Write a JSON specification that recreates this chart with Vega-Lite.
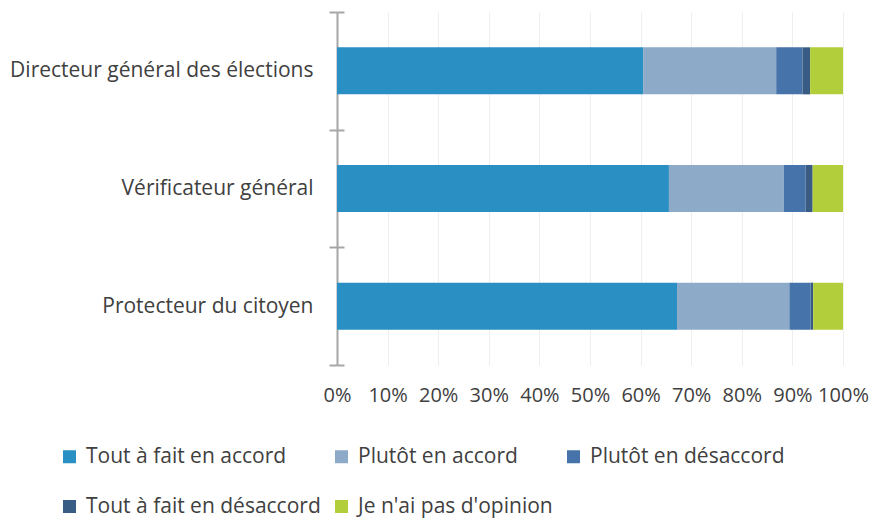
{
  "$schema": "https://vega.github.io/schema/vega-lite/v6.json",
  "autosize": {"type": "none"},
  "width": 506,
  "height": 353,
  "padding": {"left": 337, "top": 12, "right": 29, "bottom": 155},
  "background": "white",
  "config": {
    "font": "Open Sans",
    "view": {"stroke": null}
  },
  "data": {
    "values": [
      {"institution": "Directeur général des élections", "reponse": "Tout à fait en accord", "pct": 60.5},
      {"institution": "Directeur général des élections", "reponse": "Plutôt en accord", "pct": 26.3},
      {"institution": "Directeur général des élections", "reponse": "Plutôt en désaccord", "pct": 5.2},
      {"institution": "Directeur général des élections", "reponse": "Tout à fait en désaccord", "pct": 1.5},
      {"institution": "Directeur général des élections", "reponse": "Je n'ai pas d'opinion", "pct": 6.5},
      {"institution": "Vérificateur général", "reponse": "Tout à fait en accord", "pct": 65.6},
      {"institution": "Vérificateur général", "reponse": "Plutôt en accord", "pct": 22.7},
      {"institution": "Vérificateur général", "reponse": "Plutôt en désaccord", "pct": 4.3},
      {"institution": "Vérificateur général", "reponse": "Tout à fait en désaccord", "pct": 1.4},
      {"institution": "Vérificateur général", "reponse": "Je n'ai pas d'opinion", "pct": 6.0},
      {"institution": "Protecteur du citoyen", "reponse": "Tout à fait en accord", "pct": 67.2},
      {"institution": "Protecteur du citoyen", "reponse": "Plutôt en accord", "pct": 22.2},
      {"institution": "Protecteur du citoyen", "reponse": "Plutôt en désaccord", "pct": 4.2},
      {"institution": "Protecteur du citoyen", "reponse": "Tout à fait en désaccord", "pct": 0.5},
      {"institution": "Protecteur du citoyen", "reponse": "Je n'ai pas d'opinion", "pct": 5.9}
    ]
  },
  "transform": [
    {"calculate": "indexof(['Tout à fait en accord', 'Plutôt en accord', 'Plutôt en désaccord', 'Tout à fait en désaccord', \"Je n'ai pas d'opinion\"], datum.reponse)", "as": "rang"}
  ],
  "resolve": {"axis": {"y": "independent"}},
  "layer": [
    {
      "mark": {"type": "bar", "height": {"band": 0.4}},
      "encoding": {
        "y": {
          "field": "institution",
          "type": "nominal",
          "sort": ["Directeur général des élections", "Vérificateur général", "Protecteur du citoyen"],
          "scale": {"paddingInner": 0, "paddingOuter": 0},
          "axis": {
            "title": null,
            "orient": "left",
            "domainColor": "#a6a6a6",
            "domainWidth": 2,
            "tickColor": "#a6a6a6",
            "tickWidth": 2,
            "tickSize": 8,
            "tickBand": "extent",
            "labelFontSize": 21,
            "labelColor": "#404040",
            "labelPadding": 16,
            "labelLimit": 400
          }
        },
        "x": {
          "field": "pct",
          "type": "quantitative",
          "stack": "zero",
          "scale": {"domain": [0, 100]},
          "axis": {
            "title": null,
            "values": [0, 10, 20, 30, 40, 50, 60, 70, 80, 90, 100],
            "labelExpr": "datum.value + '%'",
            "labelOverlap": false,
            "labelFlush": false,
            "domain": false,
            "ticks": false,
            "grid": true,
            "gridColor": "#eeeeee",
            "labelFontSize": 20,
            "labelColor": "#404040",
            "labelPadding": 20
          }
        },
        "order": {"field": "rang", "type": "quantitative"},
        "color": {
          "field": "reponse",
          "type": "nominal",
          "sort": ["Tout à fait en accord", "Plutôt en accord", "Plutôt en désaccord", "Tout à fait en désaccord", "Je n'ai pas d'opinion"],
          "scale": {
            "domain": ["Tout à fait en accord", "Plutôt en accord", "Plutôt en désaccord", "Tout à fait en désaccord", "Je n'ai pas d'opinion"],
            "range": ["#2A90C3", "#8DAAC9", "#4673A9", "#395C84", "#B3CE3B"]
          },
          "legend": {
            "title": null,
            "orient": "none",
            "legendX": -278,
            "legendY": 434,
            "direction": "horizontal",
            "columns": 3,
            "columnPadding": 10,
            "rowPadding": 28,
            "symbolType": "square",
            "symbolSize": 169,
            "symbolStrokeWidth": 0,
            "symbolOffset": 0,
            "labelOffset": 6,
            "labelFontSize": 21,
            "labelColor": "#404040",
            "labelLimit": 400,
            "padding": 0
          }
        }
      }
    },
    {
      "mark": {"type": "bar", "opacity": 0, "height": {"band": 0.4}},
      "encoding": {
        "y": {
          "field": "institution",
          "type": "nominal",
          "sort": ["Directeur général des élections", "Vérificateur général", "Protecteur du citoyen"],
          "axis": {
            "title": null,
            "orient": "left",
            "labels": false,
            "domain": false,
            "tickColor": "#a6a6a6",
            "tickWidth": 2,
            "tickSize": -7,
            "tickBand": "extent"
          }
        },
        "x": {"field": "pct", "type": "quantitative", "stack": "zero"},
        "order": {"field": "rang", "type": "quantitative"}
      }
    }
  ]
}
